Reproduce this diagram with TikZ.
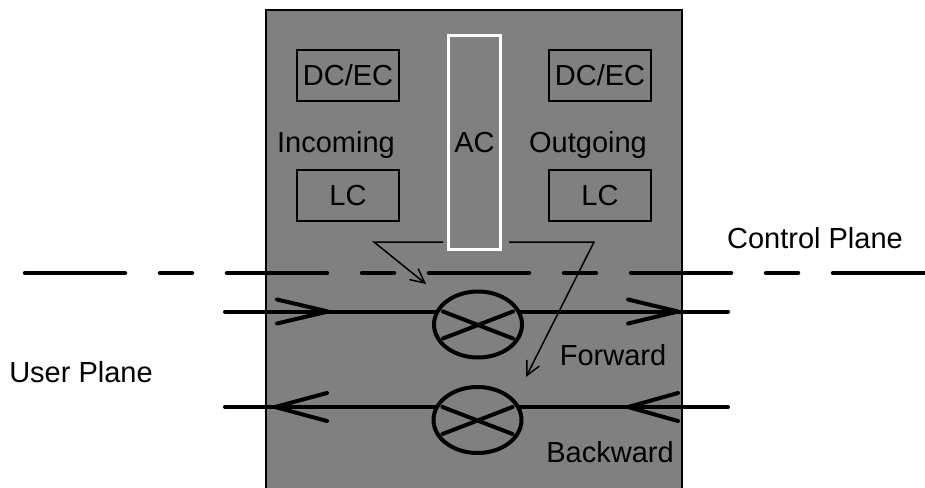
\documentclass[tikz,border=0pt]{standalone}
\usepackage{fontspec}
\setmainfont{Liberation Sans}
\usetikzlibrary{arrows.meta,shapes.geometric}
\definecolor{panelgray}{RGB}{128,128,128}
\begin{document}
\begin{tikzpicture}[x=1pt,y=-1pt,
    txt/.style={font=\fontsize{29}{35}\selectfont,inner sep=0pt},
    blk/.style={txt,draw,line width=2pt,minimum width=102pt,minimum height=51pt},
    xing/.style={ellipse,draw,fill=panelgray,line width=4pt,minimum width=88pt,minimum height=66pt,inner sep=0pt},
    bus/.style={line width=4pt,line cap=round,line join=round},
    ctrl/.style={line width=1.5pt,-{Straight Barb[length=14pt,width=14pt]}}]
    \clip (0,0) rectangle (925,487);
    % switch panel
    \fill[panelgray] (266,10) rectangle (682,500);
    \draw[line width=2pt] (266,500) -- (266,10) -- (682,10) -- (682,500);
    \node[blk] (dcin) at (348,75.5) {DC/EC};
    \node[blk] (lcin) at (348,195.5) {LC};
    \node[blk] (dcout) at (600,75.5) {DC/EC};
    \node[blk] (lcout) at (600,195.5) {LC};
    \node[txt,draw=white,line width=3pt,minimum width=52pt,minimum height=214pt] (ac) at (474.5,142.5) {AC};
    \node[txt,anchor=base] (incoming) at (336,152) {Incoming};
    \node[txt,anchor=base] (outgoing) at (588,152) {Outgoing};
    % control plane
    \draw[line width=4.5pt,line cap=round,dash pattern=on 100pt off 35pt on 32pt off 35pt] (25,273) -- (940,273);
    \node[txt,anchor=base] (cplane) at (815,248) {Control Plane};
    \node[txt,anchor=base] (uplane) at (81,382) {User Plane};
    % user plane lines
    \coordinate (fin) at (225,311.5);
    \coordinate (fout) at (728,311.5);
    \coordinate (bin) at (225,407);
    \coordinate (bout) at (728,407);
    \draw[bus] (fin) -- (fout);
    \draw[bus] (bin) -- (bout);
    \node[xing] (fwdx) at (478,324.5) {};
    \node[xing] (bwdx) at (477.5,420) {};
    \foreach \n in {fwdx,bwdx} {
        \draw[bus] ([shift={(-35,-13)}]\n.center) -- ([shift={(35,14)}]\n.center);
        \draw[bus] ([shift={(-35,14)}]\n.center) -- ([shift={(35,-13)}]\n.center);
    }
    % open arrow heads
    \coordinate (ftl) at (328,311.5);
    \coordinate (ftr) at (678,311.5);
    \coordinate (btl) at (275,407);
    \coordinate (btr) at (628,407);
    \draw[bus] ([shift={(-51,-12)}]ftl) -- (ftl) -- ++(-51,12);
    \draw[bus] ([shift={(-50,-12)}]ftr) -- (ftr) -- ++(-50,12);
    \draw[bus] ([shift={(52,-14)}]btl) -- (btl) -- ++(52,14);
    \draw[bus] ([shift={(50,-14)}]btr) -- (btr) -- ++(50,14);
    \node[txt,anchor=base] (fwd) at (613,365) {Forward};
    \node[txt,anchor=base] (bwd) at (610,462) {Backward};
    % admission control arrows
    \coordinate (acl) at (443,242);
    \coordinate (kl) at (374,242);
    \coordinate (tl) at (426,284);
    \coordinate (acr) at (509,242);
    \coordinate (kr) at (594,242);
    \coordinate (tr) at (526,377);
    \draw[ctrl] (acl) -- (kl) -- (tl);
    \draw[ctrl] (acr) -- (kr) -- (tr);
\end{tikzpicture}
\end{document}
